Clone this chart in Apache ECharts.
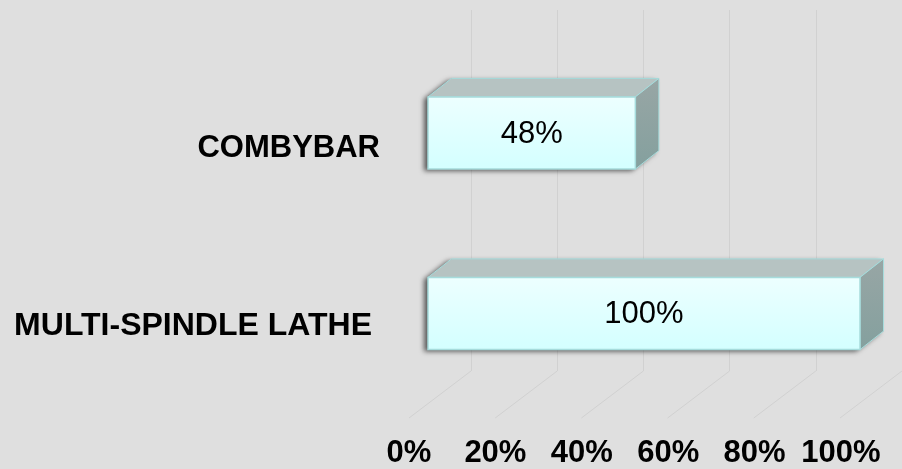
<!DOCTYPE html>
<html>
<head>
<meta charset="utf-8">
<script src="https://cdn.jsdelivr.net/npm/echarts@6/dist/echarts.min.js"></script>
<style>
html,body{margin:0;padding:0;background:#dfdfdf;}
#c{width:902px;height:469px;}
</style>
</head>
<body>
<div id="c"></div>
<script>
// Data
const categories = ['MULTI-SPINDLE LATHE', 'COMBYBAR']; // bottom to top
const values = [1.00, 0.48];
const tickValues = [0, 0.2, 0.4, 0.6, 0.8, 1.0];

const FONT = '"Liberation Sans", Arial, sans-serif';
const GRID_COLOR = '#d1d1d1';

const chart = echarts.init(document.getElementById('c'));

const option = {
  backgroundColor: '#dfdfdf',
  animation: false,
  grid: [
    { left: 471, top: 10, width: 432, height: 361 },      // back wall
    { left: 428, top: 42.75, width: 432, height: 361 },   // bars (front faces)
    { left: 409, top: 10, width: 432, height: 408 }       // floor front edge (tick labels)
  ],
  xAxis: [
    { gridIndex: 0, type: 'value', min: 0, max: 1, interval: 0.2,
      axisLine: {show: false}, axisTick: {show: false}, axisLabel: {show: false},
      splitLine: {show: true, lineStyle: {color: GRID_COLOR, width: 1}} },
    { gridIndex: 1, type: 'value', min: 0, max: 1, interval: 0.2, show: false },
    { gridIndex: 2, type: 'value', min: 0, max: 1, interval: 0.2,
      axisLine: {show: false}, axisTick: {show: false}, splitLine: {show: false},
      axisLabel: { margin: 22, color: '#000', fontSize: 31, fontWeight: 'bold', fontFamily: FONT,
        formatter: v => Math.round(v * 100) + '%' } }
  ],
  yAxis: [
    { gridIndex: 0, type: 'value', min: 0, max: 1, show: false },
    { gridIndex: 1, type: 'category', data: categories,
      axisLine: {show: false}, axisTick: {show: false}, splitLine: {show: false},
      axisLabel: { margin: 48, color: '#000',
        formatter: (v, i) => (i === 0 ? '{m|' : '{c|') + v + '}',
        rich: {
          m: { fontSize: 32, fontWeight: 'bold', fontFamily: FONT, color: '#000', padding: [26, 8, 0, 0] },
          c: { fontSize: 31, fontWeight: 'bold', fontFamily: FONT, color: '#000', padding: [30, 0, 0, 0] }
        } } },
    { gridIndex: 2, type: 'value', min: 0, max: 1, show: false }
  ],
  series: [
    {
      // floor lines from back wall to the front edge
      type: 'custom', xAxisIndex: 0, yAxisIndex: 0, silent: true, z: 1,
      data: tickValues.map(v => [v, 0]),
      renderItem: function (params, api) {
        const p = api.coord([api.value(0), 0]);
        return { type: 'line', shape: { x1: p[0], y1: p[1], x2: p[0] - 62, y2: p[1] + 47 },
          style: { stroke: GRID_COLOR, lineWidth: 1 } };
      }
    },
    {
      type: 'custom', xAxisIndex: 1, yAxisIndex: 1, z: 3,
      data: values.map((v, i) => [v, i]),
      encode: { x: 0, y: 1 },
      renderItem: function (params, api) {
        const v = api.value(0);
        const s = api.coord([0, api.value(1)]);
        const e = api.coord([v, api.value(1)]);
        const h = api.size([0, 1])[1] * 0.4;
        const x = s[0], x2 = e[0], y = s[1] - h / 2;
        const dx = 23.5, dy = -18.5;
        const border = '#a6dcdc';
        return {
          type: 'group',
          children: [
            { type: 'polygon', shape: { points: [[x, y + h], [x, y], [x + dx, y + dy], [x2 + dx, y + dy], [x2 + dx, y + h + dy], [x2, y + h]] },
              style: { fill: '#8a9a9a', shadowBlur: 5, shadowOffsetX: -4, shadowOffsetY: 2, shadowColor: 'rgba(0,0,0,0.6)' } },
            { type: 'polygon', shape: { points: [[x, y], [x + dx, y + dy], [x2 + dx, y + dy], [x2, y]] },
              style: { fill: '#b6c3c2', stroke: border, lineWidth: 1 } },
            { type: 'polygon', shape: { points: [[x2, y], [x2 + dx, y + dy], [x2 + dx, y + h + dy], [x2, y + h]] },
              style: { fill: new echarts.graphic.LinearGradient(0, 0, 0, 1, [
                  { offset: 0, color: '#98a6a5' }, { offset: 1, color: '#84a09e' }]),
                stroke: border, lineWidth: 1 } },
            { type: 'rect', shape: { x: x, y: y, width: x2 - x, height: h },
              style: { fill: new echarts.graphic.LinearGradient(0, 0, 0, 1, [
                  { offset: 0, color: '#edffff' }, { offset: 1, color: '#d3ffff' }]),
                stroke: border, lineWidth: 1.5 } },
            { type: 'text', style: { text: Math.round(v * 100) + '%', x: (x + x2) / 2, y: y + h / 2 + 1,
                align: 'center', verticalAlign: 'middle', fontSize: 31, fontFamily: FONT, fill: '#000' } }
          ]
        };
      }
    }
  ]
};
chart.setOption(option);
</script>
</body>
</html>
